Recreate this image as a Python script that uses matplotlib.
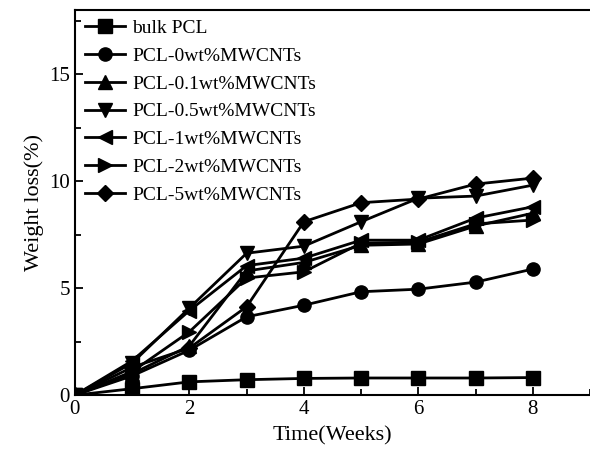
import matplotlib
matplotlib.use("Agg")
import matplotlib.pyplot as plt
from matplotlib.ticker import MultipleLocator

plt.rcParams['font.family'] = ['Liberation Serif', 'DejaVu Serif']

# weeks and weight loss (%)
weeks = [0, 1, 2, 3, 4, 5, 6, 7, 8]
bulk_pcl = [0, 0.3, 0.62, 0.72, 0.78, 0.8, 0.8, 0.8, 0.82]
pcl_0 = [0, 0.9, 2.1, 3.66, 4.2, 4.83, 4.95, 5.28, 5.89]
pcl_01 = [0, 1.0, 2.3, 5.8, 6.2, 7.0, 7.06, 7.9, 8.5]
pcl_05 = [0, 1.5, 4.07, 6.63, 6.96, 8.1, 9.2, 9.3, 9.81]
pcl_1 = [0, 1.6, 3.95, 6.05, 6.4, 7.24, 7.24, 8.27, 8.8]
pcl_2 = [0, 1.1, 2.96, 5.47, 5.76, 7.1, 7.15, 8.0, 8.18]
pcl_5 = [0, 1.3, 2.2, 4.13, 8.1, 8.99, 9.16, 9.86, 10.14]

series = [
    ("bulk PCL", bulk_pcl, "s"),
    ("PCL-0wt%MWCNTs", pcl_0, "o"),
    ("PCL-0.1wt%MWCNTs", pcl_01, "^"),
    ("PCL-0.5wt%MWCNTs", pcl_05, "v"),
    ("PCL-1wt%MWCNTs", pcl_1, "<"),
    ("PCL-2wt%MWCNTs", pcl_2, ">"),
    ("PCL-5wt%MWCNTs", pcl_5, "D"),
]

fig = plt.figure(figsize=(5.9, 4.49), dpi=100)
ax = fig.add_axes([0.127, 0.12, 0.873, 0.858])

for name, vals, mk in series:
    ms = 8 if mk == "D" else 9.5
    ax.plot(weeks, vals, color="black", lw=2, marker=mk, ms=ms, label=name)

ax.set_xlim(0, 9)
ax.set_ylim(0, 18)
ax.xaxis.set_major_locator(MultipleLocator(2))
ax.xaxis.set_minor_locator(MultipleLocator(1))
ax.yaxis.set_major_locator(MultipleLocator(5))
ax.yaxis.set_minor_locator(MultipleLocator(2.5))
ax.tick_params(which="both", direction="in", top=False, right=False, labelsize=15, width=1.3)
ax.tick_params(which="major", length=6)
ax.tick_params(which="minor", length=4)
for s in ["left", "bottom", "top"]:
    ax.spines[s].set_linewidth(1.5)
ax.spines["right"].set_visible(False)

ax.set_xlabel("Time(Weeks)", fontsize=16, labelpad=5)
ax.set_ylabel("Weight loss(%)", fontsize=16, labelpad=4)

ax.legend(loc="upper left", frameon=False, fontsize=14, handlelength=2.1,
          labelspacing=0.52, borderaxespad=0.2, handletextpad=0.35,
          borderpad=0.3)

fig.savefig("out.png", dpi=100)
